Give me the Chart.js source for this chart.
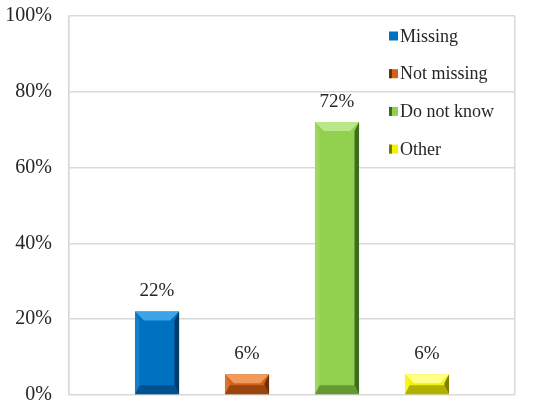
<!DOCTYPE html>
<html>
<head>
<meta charset="utf-8">
<script src="https://cdn.jsdelivr.net/npm/chart.js@4"></script>
<style>
  html, body { margin: 0; padding: 0; background: #fff; }
  #wrap { width: 550px; height: 409px; }
</style>
</head>
<body>
<div id="wrap"><canvas id="myChart"></canvas></div>
<script>
const seriesNames = ['Missing', 'Not missing', 'Do not know', 'Other'];
const seriesValues = [22, 5.5, 72, 5.5];
const yTicks = [0, 20, 40, 60, 80, 100];

const fills = ['#0070C0', '#D0621C', '#92D050', '#F2F200'];
const darks = ['#003A66', '#6E2E08', '#3F6B1C', '#7A7A00'];
const lights = ['#3FA3E8', '#F29A5C', '#B9E88A', '#FFFF8A'];

const font = 'Liberation Serif, "Times New Roman", serif';

// bevel look on each bar, using the element geometry from the scales
const bevelPlugin = {
    id: 'bevel',
    afterDatasetsDraw(chart) {
        const ctx = chart.ctx;
        chart.data.datasets.forEach((ds, i) => {
            const bar = chart.getDatasetMeta(i).data[0];
            const l = bar.x - bar.width / 2, r = bar.x + bar.width / 2;
            const t = bar.y, b = bar.base;
            const d = Math.min(9, (b - t) / 2);
            ctx.save();
            // top bevel
            ctx.fillStyle = lights[i];
            ctx.beginPath();
            ctx.moveTo(l, t); ctx.lineTo(r, t); ctx.lineTo(r - d, t + d); ctx.lineTo(l + d, t + d);
            ctx.closePath(); ctx.fill();
            // right bevel
            ctx.fillStyle = darks[i];
            ctx.beginPath();
            ctx.moveTo(r, t); ctx.lineTo(r, b); ctx.lineTo(r - d / 2, b - d); ctx.lineTo(r - d / 2, t + d);
            ctx.closePath(); ctx.fill();
            // bottom bevel
            ctx.globalAlpha = 0.55;
            ctx.beginPath();
            ctx.moveTo(l, b); ctx.lineTo(r, b); ctx.lineTo(r - d / 2, b - d); ctx.lineTo(l + d / 2, b - d);
            ctx.closePath(); ctx.fill();
            // left bevel
            ctx.globalAlpha = 0.3;
            ctx.fillStyle = lights[i];
            ctx.beginPath();
            ctx.moveTo(l, t); ctx.lineTo(l + d / 2, t + d); ctx.lineTo(l + d / 2, b - d); ctx.lineTo(l, b);
            ctx.closePath(); ctx.fill();
            ctx.restore();
        });
    }
};

// value labels above the bars
const labelPlugin = {
    id: 'valueLabels',
    afterDatasetsDraw(chart) {
        const ctx = chart.ctx;
        ctx.save();
        ctx.font = '19px ' + font;
        ctx.fillStyle = '#262626';
        ctx.textAlign = 'center';
        ctx.textBaseline = 'bottom';
        chart.data.datasets.forEach((ds, i) => {
            const bar = chart.getDatasetMeta(i).data[0];
            ctx.fillText(Math.round(ds.data[0]) + '%', bar.x, bar.y - 11);
        });
        ctx.restore();
    }
};

// legend drawn inside the plot area, top right
const innerLegend = {
    id: 'innerLegend',
    afterDraw(chart) {
        const ctx = chart.ctx;
        const area = chart.chartArea;
        const x = area.left + 320;
        ctx.save();
        ctx.font = '18px ' + font;
        ctx.textBaseline = 'middle';
        chart.data.datasets.forEach((ds, i) => {
            const y = area.top + 20 + i * 37.7;
            ctx.fillStyle = ds.backgroundColor;
            ctx.fillRect(x, y - 4.5, 9, 9);
            if (i > 0) {
                ctx.fillStyle = darks[i];
                ctx.fillRect(x, y - 4.5, 3, 9);
            }
            ctx.fillStyle = '#262626';
            ctx.fillText(ds.label, x + 11, y + 1);
        });
        ctx.restore();
    }
};

new Chart(document.getElementById('myChart'), {
    type: 'bar',
    data: {
        labels: [''],
        datasets: seriesNames.map((name, i) => ({
            label: name,
            data: [seriesValues[i]],
            backgroundColor: fills[i],
            borderWidth: 0
        }))
    },
    options: {
        responsive: true,
        maintainAspectRatio: false,
        animation: false,
        categoryPercentage: 0.807,
        barPercentage: 0.49,
        layout: { padding: { left: 0, top: 16, right: 35, bottom: 14 } },
        plugins: {
            legend: { display: false },
            tooltip: { enabled: false }
        },
        scales: {
            x: {
                grid: { offset: true, color: '#D9D9D9', lineWidth: 1.5, drawTicks: false },
                border: { display: false },
                ticks: { display: false },
                afterFit(scale) { scale.height = 0; scale.paddingLeft = 0; scale.paddingRight = 0; }
            },
            y: {
                min: 0,
                max: 100,
                afterBuildTicks(scale) { scale.ticks = yTicks.map(v => ({ value: v })); },
                grid: { color: '#D9D9D9', lineWidth: 1.5, drawTicks: false },
                border: { color: '#D9D9D9', width: 1.5 },
                ticks: {
                    padding: 17,
                    color: '#262626',
                    font: { family: font, size: 20 },
                    callback: v => v + '%'
                },
                afterFit(scale) {
                    scale.width = 69;
                    scale.paddingTop = 0;
                    scale.paddingBottom = 0;
                }
            }
        }
    },
    plugins: [bevelPlugin, labelPlugin, innerLegend]
});
</script>
</body>
</html>
